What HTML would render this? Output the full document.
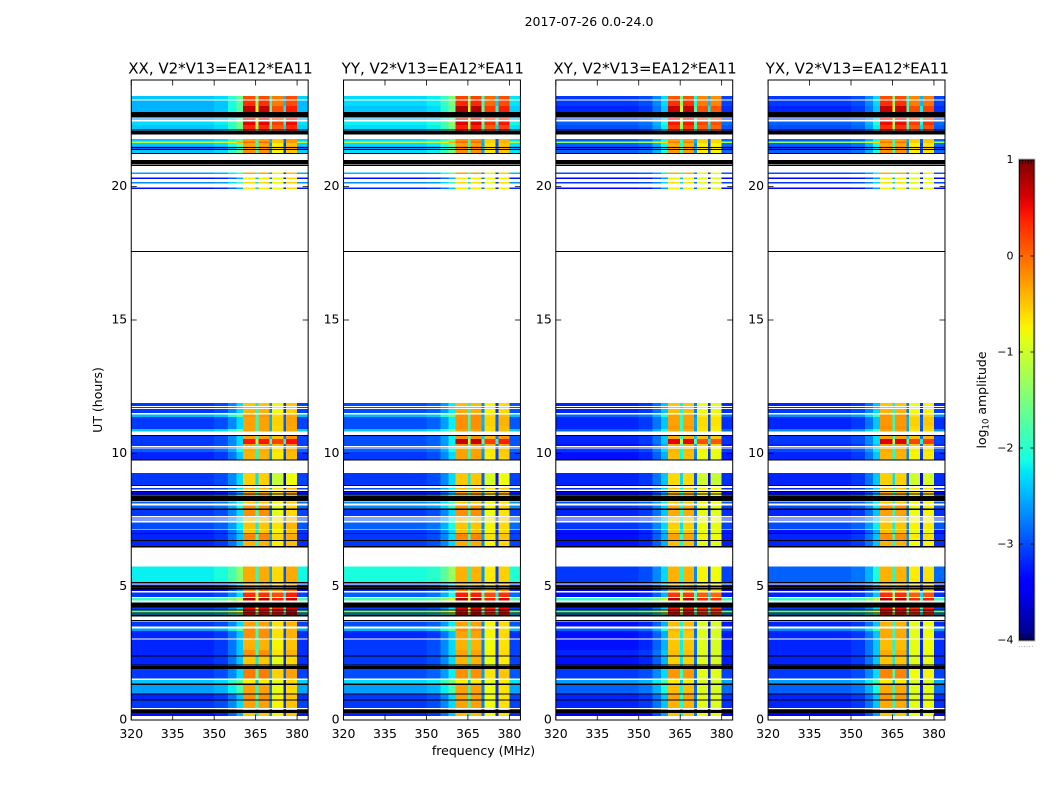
<!DOCTYPE html>
<html>
<head>
<meta charset="utf-8">
<title>2017-07-26 0.0-24.0</title>
<style>
html,body{margin:0;padding:0;background:#fff;width:1050px;height:800px;overflow:hidden}
svg{display:block}
text{font-family:"DejaVu Sans","Liberation Sans",sans-serif;fill:#000}
</style>
</head>
<body>
<svg id="fig" xmlns="http://www.w3.org/2000/svg" width="1050" height="800" viewBox="0 0 1050 800">
<defs>
<linearGradient id="jetGrad" x1="0" y1="1" x2="0" y2="0"></linearGradient>
</defs>
<text x="589" y="26" font-size="12.5" text-anchor="middle">2017-07-26 0.0-24.0</text>
<text x="102" y="400" font-size="12.5" text-anchor="middle" transform="rotate(-90 102 400)">UT (hours)</text>
<text x="483.5" y="755" font-size="12.5" text-anchor="middle">frequency (MHz)</text>
<text x="986" y="400" font-size="12.5" text-anchor="middle" transform="rotate(-90 986 400)">log<tspan font-size="8.5" dy="2.5">10</tspan><tspan dy="-2.5"> amplitude</tspan></text>
<g id="panels"></g>
<g id="colorbar"></g>
</svg>
<script>
const panelTitles = ["XX, V2*V13=EA12*EA11","YY, V2*V13=EA12*EA11","XY, V2*V13=EA12*EA11","YX, V2*V13=EA12*EA11"];
const xTicks = [320,335,350,365,380];
const yTicks = [0,5,10,15,20];
const colorTicks = [-4,-3,-2,-1,0,1];

const freqEdges = [320,335,350,355,358,360.5,365,366,370,371,375,376,380,384];
const segmentSource = ["low","low","low","low","low","a","a","a","b","b","b","b","low"];
const segmentOffset = [0,0,0.1,0.4,0.8,0,-1.7,0,-2.0,-0.05,-2.4,0.1,0.05];
const lastBandTilt = [0.1,0,-0.2,-0.1];
const quietRowBias = -0.1;

const utStart = [
0.15,0.375,0.45,0.776,1.001,1.376,1.564,2.025,2.089,2.426,
2.625,3.049,3.337,3.499,3.949,4.024,4.151,4.474,4.612,4.838,
4.95,5.036,5.175,6.525,6.75,7.001,7.151,7.474,7.549,7.65,
7.924,8.126,8.4,8.494,8.651,8.813,9.776,10.05,10.2,10.275,
10.35,10.538,10.811,10.913,11.025,11.363,11.513,11.7,11.775,19.912,
20.126,20.288,20.475,21.263,21.413,21.488,21.525,21.638,21.694,22.088,
22.151,22.313,22.5,22.541,22.8,23.025,23.269];
const utEnd = [
0.2625,0.4125,0.739,0.964,1.3125,1.5,1.9125,2.051,2.389,2.625,
3.011,3.337,3.424,3.686,3.986,4.099,4.211,4.575,4.774,4.901,
4.975,5.089,5.749,6.712,6.975,7.125,7.399,7.526,7.601,7.875,
8.051,8.194,8.449,8.55,8.7,9.263,10.05,10.163,10.22,10.35,
10.538,10.65,10.913,11.025,11.363,11.449,11.663,11.738,11.888,19.961,
20.175,20.336,20.524,21.375,21.461,21.525,21.638,21.694,21.788,22.114,
22.313,22.436,22.523,22.564,23.025,23.231,23.4];

const flagStart = [0.2625,0.739,0.964,1.3125,1.9125,2.051,2.389,3.7125,3.874,3.986,4.099,4.211,4.901,4.975,5.126,6.476,6.712,6.975,7.875,8.213,8.449,8.55,8.775,9.739,10.65,17.565,20.775,20.839,21.236,21.386,21.461,21.956,22.114,22.601];
const flagEnd = [0.375,0.776,1.001,1.376,2.025,2.089,2.426,3.75,3.949,4.024,4.151,4.399,4.95,5.036,5.175,6.525,6.75,7.001,7.924,8.4,8.494,8.588,8.813,9.776,10.688,17.588,20.8125,21,21.263,21.4125,21.488,22.0875,22.151,22.8];

const lowXX = [
-3.2,-3,-3,-3.1,-2.6,-2.4,-3,-3,-3.1,-3.1,
-3.1,-3.1,-2.6,-3,-2.5,-1.8,-3,-1.9,-3,-3.3,
-3,-3,-2.2,-3.1,-3.1,-3.1,-2.9,-3,-3,-3,
-2.8,-2.8,-3,-3.3,-3,-3,-3.1,-2.8,-3,-3,
-3,-3,-2.4,-3,-3,-2.5,-3,-3,-3,-3.2,
-2.7,-3.2,-2.6,-2.4,-2.8,-2.6,-2.4,-1.2,-2.4,-2.5,
-2.4,-2.3,-2.6,-2.6,-2.5,-2.5,-2.4];
const bandAXX = [
-0.5,-0.6,-0.3,-0.2,-0.3,-0.7,-0.1,-0.6,-0.5,-0.2,
-0.4,-0.2,-0.2,-0.3,0.4,0.6,0.5,0.75,0.3,-0.1,
-0.2,-0.3,-0.35,-0.4,-0.15,-0.5,-0.5,-0.4,-0.4,-0.2,
-0.25,-0.5,-0.3,-0.3,-0.4,-0.55,-0.4,-0.35,-0.4,-0.3,
0.45,-0.3,-0.3,-0.3,-0.3,-0.25,-0.4,-0.4,-0.5,-0.7,
-0.6,-0.7,-0.35,-0.2,-0.2,-0.2,-0.35,0,-0.3,0.3,
0.35,0.55,0.55,0.55,0.7,0.3,0.15];
const bandBXX = [
-0.7,-0.8,-0.7,-0.7,-0.8,-0.8,-0.5,-0.8,-0.8,-0.6,
-0.7,-0.6,-0.6,-0.6,0.4,0.55,0.4,0.45,0.2,-0.2,
-0.4,-0.5,-0.55,-0.65,-0.55,-0.7,-0.6,-0.6,-0.6,-0.8,
-0.8,-0.7,-0.6,-0.5,-0.6,-1,-0.65,-0.6,-0.6,-0.4,
0.27,-0.4,-0.5,-0.55,-0.5,-0.55,-0.75,-0.7,-0.7,-0.8,
-0.75,-0.8,-0.65,-0.7,-0.5,-0.5,-0.7,-0.45,-0.45,0.2,
0.12,0.3,0.3,0.3,0.2,-0.05,-0.05];

const lowYY = [
-3.1,-3,-3,-3,-2.6,-2.3,-2.9,-2.9,-3,-3,
-3,-3.1,-2.5,-2.9,-2.4,-1.8,-3,-1.8,-2.8,-3.1,
-2.9,-2.9,-2.1,-3,-3,-3,-2.8,-2.9,-2.9,-3,
-2.7,-2.7,-2.9,-3.2,-2.9,-3,-3,-2.8,-2.9,-2.9,
-2.9,-2.9,-2.4,-2.9,-2.9,-2.5,-2.9,-2.9,-2.9,-3.1,
-2.7,-3.2,-2.5,-2.3,-2.6,-2.5,-2.3,-1.2,-2.3,-2.4,
-2.3,-2.2,-2.5,-2.5,-2.4,-2.3,-2.3];
const bandAYY = [
-0.45,-0.5,-0.3,-0.3,-0.3,-0.7,-0.2,-0.5,-0.4,-0.3,
-0.4,-0.3,-0.2,-0.3,0.5,0.65,0.55,0.8,0.4,-0.1,
-0.2,-0.3,-0.4,-0.35,-0.15,-0.45,-0.5,-0.4,-0.4,-0.2,
-0.25,-0.5,-0.3,-0.3,-0.4,-0.5,-0.3,-0.3,-0.4,-0.2,
0.7,-0.2,-0.3,-0.2,-0.2,-0.2,-0.35,-0.4,-0.45,-0.7,
-0.6,-0.7,-0.3,-0.2,-0.1,-0.1,-0.3,0,-0.2,0.4,
0.4,0.6,0.6,0.7,0.8,0.35,0.2];
const bandBYY = [
-0.75,-0.8,-0.75,-0.75,-0.75,-0.8,-0.6,-0.8,-0.8,-0.7,
-0.75,-0.7,-0.7,-0.7,0.3,0.45,0.4,0.45,0.2,-0.3,
-0.5,-0.6,-0.65,-0.7,-0.6,-0.7,-0.7,-0.6,-0.6,-0.75,
-0.7,-0.7,-0.6,-0.5,-0.6,-0.9,-0.65,-0.6,-0.6,-0.4,
0.3,-0.35,-0.55,-0.55,-0.5,-0.55,-0.7,-0.7,-0.7,-0.8,
-0.75,-0.8,-0.65,-0.6,-0.5,-0.5,-0.6,-0.5,-0.5,0.2,
0.1,0.35,0.3,0.3,0.3,0.05,0.05];

const lowXY = [
-3.3,-3.1,-3.1,-3.1,-2.8,-2.6,-3,-3.1,-3.2,-3.1,
-3.2,-3.2,-2.8,-3.2,-2.7,-1.9,-3.1,-1.9,-3.2,-3.4,
-3.1,-3.1,-3,-3.2,-3.2,-3.2,-3,-3.1,-3.1,-3.1,
-3,-2.9,-3.1,-3.3,-3.1,-3.1,-3.2,-3,-3.1,-3.2,
-3.1,-3.1,-2.8,-3.1,-3.1,-2.8,-3.1,-3.2,-3.1,-3.3,
-3,-3.3,-2.9,-2.8,-3,-2.9,-2.8,-1.4,-2.8,-3,
-2.9,-2.8,-3,-3,-3.1,-3,-3];
const bandAXY = [
-0.5,-0.7,-0.4,-0.3,-0.45,-0.7,-0.25,-0.7,-0.55,-0.45,
-0.5,-0.5,-0.4,-0.45,0.4,0.55,0.45,0.75,0.25,-0.2,
-0.3,-0.4,-0.4,-0.45,-0.3,-0.5,-0.55,-0.45,-0.45,-0.35,
-0.35,-0.5,-0.4,-0.4,-0.5,-0.6,-0.45,-0.4,-0.45,-0.35,
0.55,-0.35,-0.35,-0.25,-0.3,-0.3,-0.45,-0.5,-0.5,-0.75,
-0.65,-0.75,-0.4,-0.25,-0.25,-0.25,-0.4,-0.1,-0.3,0.25,
0.25,0.45,0.45,0.55,0.7,0.3,0.1];
const bandBXY = [
-0.8,-0.9,-0.8,-0.8,-0.85,-0.9,-0.8,-0.85,-0.85,-0.85,
-0.85,-0.85,-0.85,-0.85,0.25,0.4,0.3,0.4,0.1,-0.5,
-0.6,-0.65,-0.7,-0.8,-0.7,-0.8,-0.75,-0.7,-0.7,-0.8,
-0.75,-0.7,-0.7,-0.6,-0.65,-0.95,-0.75,-0.7,-0.7,-0.5,
0.2,-0.4,-0.6,-0.6,-0.55,-0.65,-0.75,-0.75,-0.75,-0.85,
-0.8,-0.85,-0.7,-0.65,-0.55,-0.55,-0.7,-0.5,-0.5,0.1,
0.1,0.25,0.2,0.2,0.2,-0.05,-0.1];

const lowYX = [
-3.3,-3.1,-3.1,-3.1,-2.8,-2.6,-3,-3.1,-3.1,-3.1,
-3.1,-3.1,-2.7,-3.1,-2.6,-1.9,-3,-1.9,-3.1,-3.3,
-3,-3.1,-2.8,-3.1,-3.1,-3.2,-2.9,-3,-3,-3.1,
-2.9,-2.9,-3,-3.3,-3.1,-3.1,-3.1,-2.9,-3,-3.1,
-3,-3,-2.7,-3.1,-3.1,-2.7,-3,-3.1,-3.1,-3.3,
-3,-3.3,-2.9,-2.8,-3,-2.9,-2.8,-1.4,-2.8,-3,
-2.9,-2.8,-3,-3,-3.1,-3,-3];
const bandAYX = [
-0.5,-0.65,-0.35,-0.25,-0.35,-0.7,-0.15,-0.6,-0.5,-0.35,
-0.45,-0.35,-0.35,-0.4,0.45,0.6,0.5,0.75,0.3,-0.2,
-0.3,-0.4,-0.4,-0.4,-0.2,-0.45,-0.5,-0.4,-0.4,-0.3,
-0.25,-0.5,-0.35,-0.35,-0.45,-0.55,-0.4,-0.35,-0.4,-0.3,
0.6,-0.3,-0.3,-0.2,-0.25,-0.25,-0.4,-0.45,-0.5,-0.75,
-0.65,-0.75,-0.4,-0.2,-0.2,-0.2,-0.35,-0.05,-0.3,0.3,
0.3,0.5,0.5,0.55,0.7,0.3,0.15];
const bandBYX = [
-0.8,-0.9,-0.8,-0.85,-0.85,-0.9,-0.75,-0.85,-0.85,-0.8,
-0.8,-0.8,-0.8,-0.8,0.3,0.45,0.35,0.4,0.1,-0.5,
-0.55,-0.6,-0.65,-0.75,-0.65,-0.8,-0.7,-0.7,-0.7,-0.75,
-0.75,-0.7,-0.65,-0.55,-0.6,-0.95,-0.7,-0.65,-0.65,-0.45,
0.25,-0.4,-0.6,-0.55,-0.5,-0.6,-0.75,-0.75,-0.75,-0.85,
-0.8,-0.85,-0.7,-0.65,-0.55,-0.55,-0.7,-0.5,-0.5,0.15,
0.1,0.3,0.25,0.2,0.2,-0.05,-0.1];

const lowByPanel = [lowXX,lowYY,lowXY,lowYX];
const bandAByPanel = [bandAXX,bandAYY,bandAXY,bandAYX];
const bandBByPanel = [bandBXX,bandBYY,bandBXY,bandBYX];

const SVGNS = "http://www.w3.org/2000/svg";
const panelsRoot = document.getElementById("panels");
const barRoot = document.getElementById("colorbar");
const axTop = 80, axBottom = 720, axW = 176.9, axGap = 35.38, axLeft0 = 131.25;
const xMin = 320, xMax = 384, yMin = 0, yMax = 24, vMin = -4, vMax = 1;

function clamp01(v){return Math.max(0,Math.min(1,v));}
function jet(t){
  t = clamp01(t);
  let r,g,b;
  if(t<0.35) r=0; else if(t<0.66) r=(t-0.35)/0.31; else if(t<0.89) r=1; else r=1-0.5*(t-0.89)/0.11;
  if(t<0.125) g=0; else if(t<0.375) g=(t-0.125)/0.25; else if(t<0.64) g=1; else if(t<0.91) g=1-(t-0.64)/0.27; else g=0;
  if(t<0.11) b=0.5+0.5*t/0.11; else if(t<0.34) b=1; else if(t<0.65) b=1-(t-0.34)/0.31; else b=0;
  return "rgb("+Math.round(r*255)+","+Math.round(g*255)+","+Math.round(b*255)+")";
}
function colorOf(v){return jet((v-vMin)/(vMax-vMin));}
function yScale(u){return axBottom-(u-yMin)/(yMax-yMin)*(axBottom-axTop);}
function xScale(left,f){return left+(f-xMin)/(xMax-xMin)*axW;}
function colorY(v){return 640-(v-vMin)/(vMax-vMin)*480;}
function make(parent,tag,attrs){
  const el=document.createElementNS(SVGNS,tag);
  for(const k in attrs) el.setAttribute(k,attrs[k]);
  parent.appendChild(el);
  return el;
}

panelTitles.forEach(function(title,p){
  const left = axLeft0+p*(axW+axGap);
  const g = make(panelsRoot,"g",{});
  
  
  const cells = make(g,"g",{"shape-rendering":"crispEdges"});
  
  
  utStart.forEach(function(start,r){
    const end = utEnd[r];
    for(let s=0;s<segmentOffset.length;s++){
      const src = segmentSource[s];
      let base = src==="low" ? lowByPanel[p][r] : (src==="a" ? bandAByPanel[p][r] : bandBByPanel[p][r]);
      if(src==="low" && base<-2.7) base += quietRowBias;
      let val = base+segmentOffset[s];
      if(s===11) val += lastBandTilt[p];
      const x0 = xScale(left,freqEdges[s]);
      const x1 = xScale(left,freqEdges[s+1]);
      const cell = make(cells,"rect",{x:x0,y:yScale(end),width:x1-x0,height:Math.max(yScale(start)-yScale(end),0.8),fill:colorOf(val)});
      
      
    }
  });
  flagStart.forEach(function(start,r){
    const y1 = yScale(flagEnd[r]);
    const flag = make(cells,"rect",{x:left,y:y1,width:axW,height:Math.max(yScale(start)-y1,0.8),fill:"#000"});
    
    
  });
  xTicks.forEach(function(v){
    const x = xScale(left,v);
    const t1 = make(g,"line",{x1:x,x2:x,y1:axBottom,y2:axBottom-5.5,stroke:"#000","stroke-width":0.8});
    
    
    const t2 = make(g,"line",{x1:x,x2:x,y1:axTop,y2:axTop+5.5,stroke:"#000","stroke-width":0.8});
    
    
    const lab = make(g,"text",{x:x,y:738,"font-size":12.5,"text-anchor":"middle"});
    
    
    lab.textContent = String(v);
  });
  yTicks.forEach(function(v){
    const y = yScale(v);
    const t1 = make(g,"line",{x1:left,x2:left+5.5,y1:y,y2:y,stroke:"#000","stroke-width":0.8});
    
    
    const t2 = make(g,"line",{x1:left+axW,x2:left+axW-5.5,y1:y,y2:y,stroke:"#000","stroke-width":0.8});
    
    
    const lab = make(g,"text",{x:left-4,y:y+3.5,"font-size":12.5,"text-anchor":"end"});
    
    
    lab.textContent = String(v);
  });
  const frame = make(g,"rect",{x:left,y:axTop,width:axW,height:axBottom-axTop,fill:"none",stroke:"#000","stroke-width":1});
  
  
  const tt = make(g,"text",{x:left+axW/2+0.8,y:73.5,"font-size":15,"text-anchor":"middle"});
  
  
  tt.textContent = title;
});

const grad = document.getElementById("jetGrad");
for(let i=0;i<=40;i++){
  make(grad,"stop",{offset:(i/40),"stop-color":jet(i/40)});
}
const barX = 1019.5, barW = 14.5;
const barRect = make(barRoot,"rect",{x:barX,y:160,width:barW,height:480,fill:"url(#jetGrad)",stroke:"#000","stroke-width":1});


const barOuter = make(barRoot,"rect",{x:barX-1,y:159,width:barW+2,height:482,fill:"none",stroke:"#bbb","stroke-width":1});


colorTicks.forEach(function(v){
  const y = colorY(v);
  const t1 = make(barRoot,"line",{x1:barX,x2:barX+3.5,y1:y,y2:y,stroke:"#000","stroke-width":0.8});
  
  
  const t2 = make(barRoot,"line",{x1:barX+barW,x2:barX+barW-3.5,y1:y,y2:y,stroke:"#000","stroke-width":0.8});
  
  
  const lab = make(barRoot,"text",{x:1013.5,y:y+(v===1?3:3.5),"font-size":11,"text-anchor":"end"});
  
  
  lab.textContent = (v<0?"\u2212"+Math.abs(v):String(v));
});
for(let i=1;i<=4;i++){
  const mx = barX+i*barW/5;
  const mt = make(barRoot,"line",{x1:mx,x2:mx,y1:160,y2:164,stroke:"#000","stroke-width":0.7});
  
  
  const mb = make(barRoot,"line",{x1:mx,x2:mx,y1:640,y2:634,stroke:"#000","stroke-width":0.7});
  
  
}
const dots = make(barRoot,"text",{x:1026,y:647,"font-size":7,"text-anchor":"middle",fill:"#888"});


dots.setAttribute('style', 'fill:#888;letter-spacing:.4px');
dots.textContent = "......";
</script>
</body>
</html>
